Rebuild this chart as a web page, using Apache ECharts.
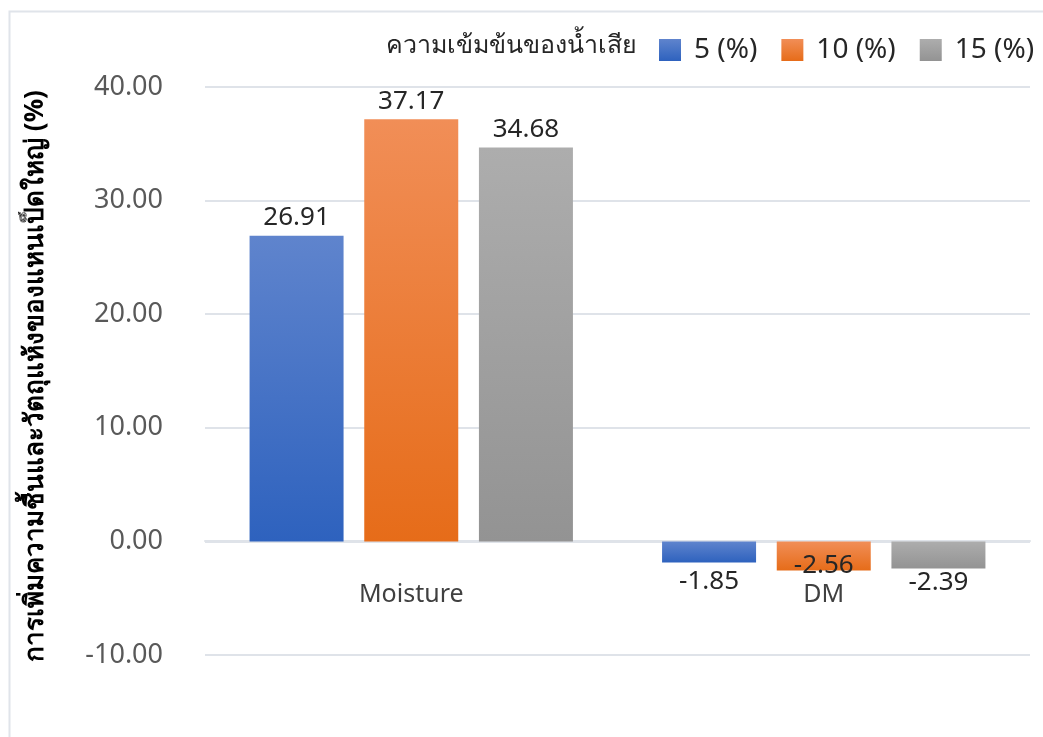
<!DOCTYPE html>
<html>
<head>
<meta charset="utf-8">
<script src="https://cdn.jsdelivr.net/npm/echarts@6/dist/echarts.min.js"></script>
<style>html,body{margin:0;padding:0;background:#fff}#c{width:1043px;height:737px}</style>
</head>
<body>
<div id="c"></div>
<script>
const categories = ['Moisture', 'DM'];
const seriesNames = ['5 (%)', '10 (%)', '15 (%)'];
const s5 = [26.91, -1.85];
const s10 = [37.17, -2.56];
const s15 = [34.68, -2.39];
const yTicks = { min: -10, max: 40, interval: 10 };
const legendTitle = 'ความเข้มข้นของน้ำเสีย';
const yName = 'การเพิ่มความชื้นและวัตถุแห้งของแหนเป็ดใหญ่ (%)';

const FONT = '"Noto Sans", "Open Sans", sans-serif';
const grads = [
  ['#5f84cd', '#2e62be'],
  ['#f18e57', '#e66c19'],
  ['#adadad', '#939393']
];
function grad(c) {
  return new echarts.graphic.LinearGradient(0, 0, 0, 1, [{offset: 0, color: c[0]}, {offset: 1, color: c[1]}]);
}
const negLabelDist = [[8, 6], [8, -18], [8, 1]];
const allData = [s5, s10, s15];
const series = allData.map((arr, i) => ({
  name: seriesNames[i],
  type: 'bar',
  barWidth: 94,
  barGap: '22%',
  itemStyle: { color: grad(grads[i]) },
  data: arr.map((v, j) => ({
    value: v,
    label: {
      show: true,
      position: v >= 0 ? 'top' : 'bottom',
      distance: v >= 0 ? 5 : negLabelDist[i][j],
      formatter: (p) => p.value.toFixed(2),
      fontSize: 26,
      color: '#262626',
      fontFamily: FONT
    }
  }))
}));

const chart = echarts.init(document.getElementById('c'));
chart.setOption({
  animation: false,
  backgroundColor: '#fff',
  grid: { left: 205, right: 13, top: 87, bottom: 82, containLabel: false },
  title: {
    text: legendTitle, left: 381, top: 28,
    textStyle: { fontSize: 25, fontWeight: 'normal', color: '#262626', fontFamily: FONT }
  },
  legend: {
    left: 659, top: 36, width: 384, padding: 0, orient: 'horizontal',
    itemWidth: 22, itemHeight: 22, itemGap: 24,
    icon: 'rect',
    textStyle: { fontSize: 28, color: '#262626', fontFamily: FONT, padding: [0, 0, 0, 8] },
    data: seriesNames
  },
  graphic: [{
    type: 'polyline', silent: true,
    shape: { points: [[9.5, 737], [9.5, 11.5], [1043, 11.5]] },
    style: { stroke: '#e0e4ea', lineWidth: 2, fill: null }
  }],
  xAxis: {
    type: 'category', data: categories,
    offset: -114,
    axisLine: { show: true, onZero: false, lineStyle: { color: '#dfe3e9', width: 2 } },
    axisTick: { show: false },
    axisLabel: { fontSize: 25, color: '#404040', margin: 41, fontFamily: FONT }
  },
  yAxis: {
    type: 'value', min: yTicks.min, max: yTicks.max, interval: yTicks.interval,
    name: yName, nameLocation: 'middle', nameGap: 156, nameRotate: 90,
    nameTextStyle: { fontSize: 26, fontWeight: 'bold', color: '#000', fontFamily: FONT, padding: [0, 10, 0, 0] },
    axisLine: { show: false }, axisTick: { show: false },
    axisLabel: { fontSize: 27, color: '#595959', margin: 42, formatter: (v) => v.toFixed(2), fontFamily: FONT },
    splitLine: { lineStyle: { color: '#dfe3e9', width: 2 } }
  },
  series: series
});
</script>
</body>
</html>
